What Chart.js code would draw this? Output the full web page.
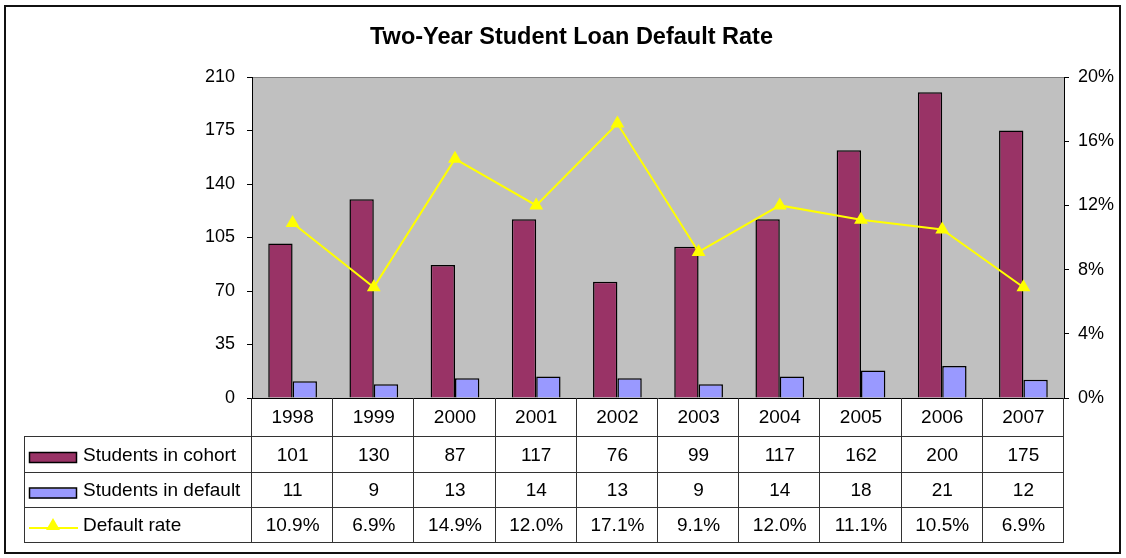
<!DOCTYPE html>
<html><head><meta charset="utf-8">
<script src="https://cdn.jsdelivr.net/npm/chart.js@4.4.1/dist/chart.umd.min.js"></script>
<style>html,body{margin:0;padding:0;background:#fff;} canvas{display:block}</style>
</head><body>
<canvas id="c" width="1126" height="558"></canvas>
<script>
const categories = ['1998','1999','2000','2001','2002','2003','2004','2005','2006','2007'];
const studentsInCohort = [101,130,87,117,76,99,117,162,200,175];
const studentsInDefault = [11,9,13,14,13,9,14,18,21,12];
const defaultRate = [10.9,6.9,14.9,12.0,17.1,9.1,12.0,11.1,10.5,6.9]; // percent
const leftAxis = {min:0, max:210, step:35};
const rightAxis = {min:0, max:20, step:4};
const seriesNames = ['Students in cohort','Students in default','Default rate'];
const titleText = 'Two-Year Student Loan Default Rate';

const FONT = '"Liberation Sans", Arial, Helvetica, sans-serif';
const COL_COHORT = '#993366', COL_DEFAULT = '#9999FF', COL_RATE = '#FFFF00';
Chart.defaults.font.family = FONT;
Chart.defaults.color = '#000';

function drawTri(ctx, cx, cy, r){
  ctx.beginPath();
  ctx.moveTo(cx, cy - r);
  ctx.lineTo(cx + r*0.866, cy + r*0.5);
  ctx.lineTo(cx - r*0.866, cy + r*0.5);
  ctx.closePath();
  ctx.fill();
}

const tablePlugin = {
  id: 'tablePlugin',
  beforeDraw(chart){
    const {ctx, chartArea:a} = chart;
    ctx.save();
    ctx.fillStyle = '#fff';
    ctx.fillRect(0,0,chart.width,chart.height);
    ctx.fillStyle = '#C0C0C0';
    ctx.fillRect(a.left, a.top, a.right-a.left, a.bottom-a.top);
    ctx.strokeStyle = '#808080'; ctx.lineWidth = 1;
    ctx.beginPath(); ctx.moveTo(a.left, Math.round(a.top)+0.5); ctx.lineTo(a.right, Math.round(a.top)+0.5); ctx.stroke();
    ctx.restore();
  },
  afterDraw(chart){
    const {ctx, chartArea:a, scales:{x}} = chart;
    const n = categories.length;
    const w = (a.right - a.left)/n;
    const rowTops = [a.bottom, 436, 472, 507, 542];
    const tableLeft = 24;
    ctx.save();
    ctx.strokeStyle = '#333'; ctx.lineWidth = 1;
    ctx.beginPath();
    for (let i=1;i<=n;i++){ const px = Math.round(a.left+i*w)-0.5; ctx.moveTo(px, a.bottom); ctx.lineTo(px, rowTops[4]+0.5); }
    ctx.moveTo(Math.round(a.left)-0.5, a.bottom); ctx.lineTo(Math.round(a.left)-0.5, rowTops[4]+0.5);
    for (let r=1;r<rowTops.length;r++){ ctx.moveTo(tableLeft, rowTops[r]+0.5); ctx.lineTo(a.right, rowTops[r]+0.5); }
    ctx.moveTo(tableLeft+0.5, rowTops[1]); ctx.lineTo(tableLeft+0.5, rowTops[4]+1);
    ctx.stroke();

    const rows = [
      {label: seriesNames[0], values: studentsInCohort.map(String), key:'bar', color: COL_COHORT},
      {label: seriesNames[1], values: studentsInDefault.map(String), key:'bar', color: COL_DEFAULT},
      {label: seriesNames[2], values: defaultRate.map(v=>v.toFixed(1)+'%'), key:'line', color: COL_RATE}
    ];
    ctx.font = '19px ' + FONT;
    ctx.textBaseline = 'middle';
    rows.forEach((row, r) => {
      const top = rowTops[r+1], bot = rowTops[r+2];
      const mid = (top+bot)/2;
      if (row.key === 'bar'){
        ctx.fillStyle = row.color;
        ctx.fillRect(29.5, mid-1, 47, 10);
        ctx.strokeStyle = '#000'; ctx.lineWidth = 1.5;
        ctx.strokeRect(29.5, mid-1.5, 47, 10);
      } else {
        ctx.strokeStyle = row.color; ctx.lineWidth = 2;
        ctx.beginPath(); ctx.moveTo(29, mid+3.5); ctx.lineTo(78, mid+3.5); ctx.stroke();
        ctx.fillStyle = row.color;
        drawTri(ctx, 53, mid+1.5, 8);
      }
      ctx.fillStyle = '#000';
      ctx.textAlign = 'left';
      ctx.fillText(row.label, 83, mid+1.5);
      ctx.textAlign = 'center';
      row.values.forEach((v,i) => ctx.fillText(v, x.getPixelForValue(i), mid+1.5));
    });
    ctx.strokeStyle = '#111'; ctx.lineWidth = 2;
    ctx.strokeRect(5, 6, 1115, 547);
    ctx.restore();
  }
};

new Chart(document.getElementById('c'), {
  data: {
    labels: categories,
    datasets: [
      {type:'line', label: seriesNames[2], data: defaultRate, yAxisID:'y1', order:0,
       borderColor: COL_RATE, borderWidth: 2, backgroundColor: COL_RATE,
       pointStyle:'triangle', pointRadius: 8, pointBackgroundColor: COL_RATE, pointBorderColor: COL_RATE, pointBorderWidth: 0,
       tension: 0, fill: false},
      {type:'bar', label: seriesNames[0], data: studentsInCohort, yAxisID:'y', order:1,
       backgroundColor: COL_COHORT, borderColor:'#000', borderWidth: 1.5,
       categoryPercentage: 0.6, barPercentage: 1.0},
      {type:'bar', label: seriesNames[1], data: studentsInDefault, yAxisID:'y', order:1,
       backgroundColor: COL_DEFAULT, borderColor:'#000', borderWidth: 1.5,
       categoryPercentage: 0.6, barPercentage: 1.0}
    ]
  },
  options: {
    responsive: false,
    animation: false,
    layout: {padding: {left: 17, right: 0, top: 0, bottom: 0}},
    plugins: {
      legend: {display: false},
      tooltip: {enabled: false},
      title: {display: true, text: titleText, color:'#000',
        font: {size: 23.5, weight: 'bold', family: FONT, lineHeight: 1.2},
        padding: {top: 23.5, bottom: 25.3}}
    },
    scales: {
      x: {
        type:'category', offset: true,
        grid: {drawOnChartArea: false, drawTicks: false, color:'#000'},
        border: {display: true, color:'#000', width: 1},
        ticks: {font:{size:19}, padding: 8, color:'#000', maxRotation:0, autoSkip:false},
        afterFit(s){ s.height = 160; }
      },
      y: {
        type:'linear', position:'left', min: leftAxis.min, max: leftAxis.max,
        ticks: {stepSize: leftAxis.step, font:{size:18}, padding: 12, color:'#000'},
        grid: {drawOnChartArea: false, drawTicks: true, tickLength: 5, color:'#000'},
        border: {display: true, color:'#000', width: 1},
        afterFit(s){ s.width = 235; }
      },
      y1: {
        type:'linear', position:'right', min: rightAxis.min, max: rightAxis.max,
        ticks: {stepSize: rightAxis.step, font:{size:18}, padding: 9, color:'#000', callback: v => v + '%'},
        grid: {drawOnChartArea: false, drawTicks: true, tickLength: 5, color:'#000'},
        border: {display: true, color:'#000', width: 1},
        afterFit(s){ s.width = 62; }
      }
    }
  },
  plugins: [tablePlugin]
});
</script>
</body></html>
